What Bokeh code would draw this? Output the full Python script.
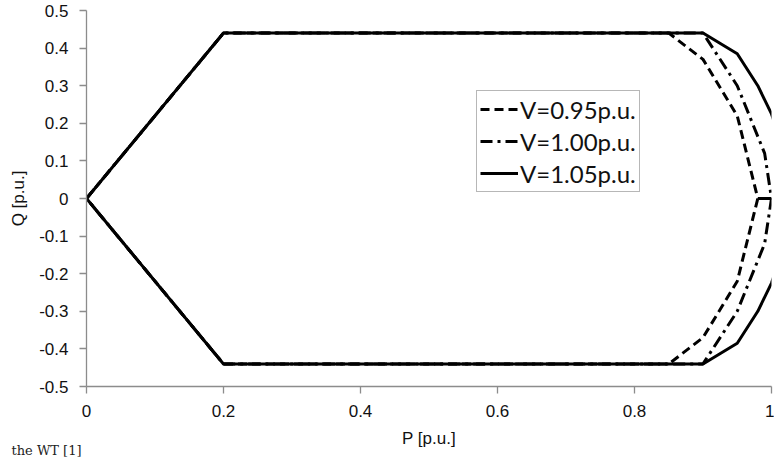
from bokeh.plotting import figure
from bokeh.models import FixedTicker, Legend, LegendItem, Label
from bokeh.embed import file_html
from bokeh.resources import INLINE

# P-Q capability boundary for three terminal voltages (upper half, mirrored below)
p_common = [0.0, 0.2]
q_common = [0.0, 0.44]

p_v095 = [0.85, 0.90, 0.95, 0.98, 1.00]
q_v095 = [0.44, 0.37, 0.22, 0.0, 0.0]

p_v100 = [0.90, 0.95, 0.99, 1.00]
q_v100 = [0.44, 0.30, 0.12, 0.0]

p_v105 = [0.90, 0.95, 0.98, 1.00, 1.02, 1.03]
q_v105 = [0.44, 0.385, 0.30, 0.225, 0.12, 0.0]

x_ticks = [0, 0.2, 0.4, 0.6, 0.8, 1.0]
x_tick_labels = ["0", "0.2", "0.4", "0.6", "0.8", "1"]
y_ticks = [-0.5, -0.4, -0.3, -0.2, -0.1, 0, 0.1, 0.2, 0.3, 0.4, 0.5]
y_tick_labels = ["-0.5", "-0.4", "-0.3", "-0.2", "-0.1", "0", "0.1", "0.2", "0.3", "0.4", "0.5"]

legend_labels = ["V=0.95p.u.", "V=1.00p.u.", "V=1.05p.u."]
x_title = "P [p.u.]"
y_title = "Q [p.u.]"
caption_text = "the WT [1]"


def closed_loop(p_tail, q_tail):
    """Build the full boundary: left wedge, upper edge, right arc, mirrored lower half."""
    ps = p_common + p_tail
    qs = q_common + q_tail
    ps_low = list(reversed(ps))
    qs_low = [-q for q in reversed(qs)]
    return ps + ps_low, qs + qs_low


p = figure(width=774, height=458, x_range=(0, 1), y_range=(-0.5, 0.5),
           output_backend="svg", toolbar_location=None,
           min_border_left=86, min_border_right=3, min_border_top=10,
           min_border_bottom=72)
p.outline_line_color = None
p.background_fill_color = "white"
p.border_fill_color = "white"
p.xgrid.visible = False
p.ygrid.visible = False

axis_color = "#8c8c8c"
for ax in (p.xaxis[0], p.yaxis[0]):
    ax.axis_line_color = axis_color
    ax.axis_line_width = 1.3
    ax.major_tick_line_color = axis_color
    ax.major_tick_line_width = 1.3
    ax.major_tick_out = 7
    ax.major_tick_in = 0
    ax.minor_tick_line_color = None
    ax.major_label_text_font = "Liberation Sans"
    ax.major_label_text_font_size = "17px"
    ax.major_label_text_color = "#111111"
    ax.axis_label_text_font = "Liberation Sans"
    ax.axis_label_text_font_size = "17px"
    ax.axis_label_text_font_style = "normal"
    ax.axis_label_text_color = "#111111"

p.xaxis.ticker = FixedTicker(ticks=x_ticks)
p.xaxis.major_label_overrides = {t: s for t, s in zip(x_ticks, x_tick_labels)}
p.yaxis.ticker = FixedTicker(ticks=y_ticks)
p.yaxis.major_label_overrides = {t: s for t, s in zip(y_ticks, y_tick_labels)}
p.yaxis.axis_label = y_title
p.xaxis.major_label_standoff = 11
p.yaxis.major_label_standoff = 11
p.yaxis.axis_label_standoff = 8

x95, y95 = closed_loop(p_v095, q_v095)
x100, y100 = closed_loop(p_v100, q_v100)
x105, y105 = closed_loop(p_v105, q_v105)

r95 = p.line(x95, y95, line_color="black", line_width=3, line_dash="9 5")
r100 = p.line(x100, y100, line_color="black", line_width=3, line_dash="12 5 3 5")
r105 = p.line(x105, y105, line_color="black", line_width=3)

legend = Legend(items=[LegendItem(label=legend_labels[0], renderers=[r95]),
                       LegendItem(label=legend_labels[1], renderers=[r100]),
                       LegendItem(label=legend_labels[2], renderers=[r105])],
                location=(390, 194))
legend.label_text_font = "Lato"
legend.label_text_font_size = "24px"
legend.label_text_color = "#111111"
legend.glyph_width = 38
legend.glyph_height = 30
legend.label_height = 30
legend.label_standoff = 2
legend.spacing = 2
legend.padding = 3
legend.margin = 0
legend.border_line_color = "#707070"
legend.border_line_width = 1.3
legend.background_fill_color = "white"
legend.background_fill_alpha = 1
p.add_layout(legend, "center")

# horizontal axis title and the caption line, both set in the bottom border
x_label = Label(x=342.5, y=0, x_units="screen", y_units="screen",
                text=x_title, text_font="Liberation Sans", text_font_size="17px",
                text_align="center", text_baseline="middle", text_color="#111111")
p.add_layout(x_label, "below")

caption = Label(x=-75, y=-4, x_units="screen", y_units="screen",
                text=caption_text, text_font="DejaVu Serif", text_font_size="13px",
                text_baseline="bottom", text_color="#222222")
p.add_layout(caption, "below")

open("out.html", "w").write(file_html(p, INLINE))
